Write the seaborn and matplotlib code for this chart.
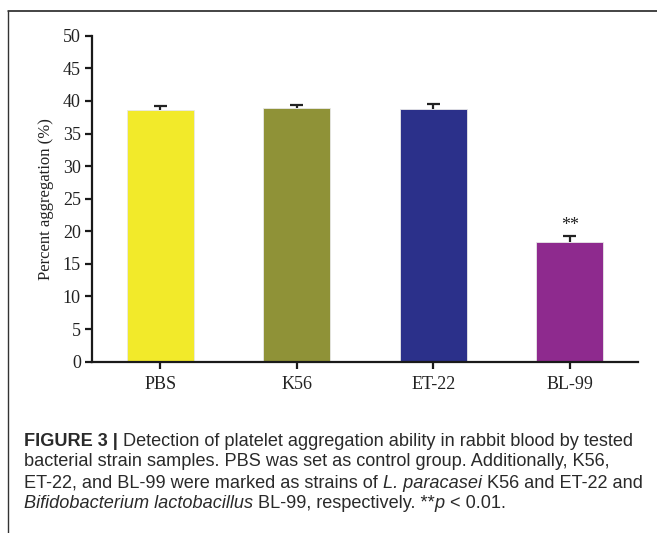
import numpy as np
import pandas as pd
import matplotlib
matplotlib.use("Agg")
import matplotlib.pyplot as plt
from matplotlib.lines import Line2D
import seaborn as sns

# ---- data ----
groups = ["PBS", "K56", "ET-22", "BL-99"]
means = [38.65, 38.85, 38.8, 18.3]
errors = [0.5, 0.45, 0.75, 0.95]
bar_colors = ["#F2EA2A", "#8F9237", "#2B308A", "#8E2A8E"]
y_ticks = [0, 5, 10, 15, 20, 25, 30, 35, 40, 45, 50]
sig_group = "BL-99"
sig_label = "**"
y_label = "Percent aggregation (%)"
caption_lines = [
    [("FIGURE 3 | ", "bold", "normal"),
     ("Detection of platelet aggregation ability in rabbit blood by tested", "normal", "normal")],
    [("bacterial strain samples. PBS was set as control group. Additionally, K56,", "normal", "normal")],
    [("ET-22, and BL-99 were marked as strains of ", "normal", "normal"),
     ("L. paracasei", "normal", "italic"),
     (" K56 and ET-22 and", "normal", "normal")],
    [("Bifidobacterium lactobacillus", "normal", "italic"),
     (" BL-99, respectively. **", "normal", "normal"),
     ("p", "normal", "italic"),
     (" < 0.01.", "normal", "normal")],
]

df = pd.DataFrame({"group": groups, "value": means, "err": errors})

sns.set_style("ticks")
serif = ["Liberation Serif", "DejaVu Serif"]
plt.rcParams["font.family"] = serif

fig = plt.figure(figsize=(6.57, 5.33), dpi=100)
ax = fig.add_axes([0.140, 0.3214, 0.831, 0.6116])

sns.barplot(data=df, x="group", y="value", hue="group",
            palette=dict(zip(groups, bar_colors)), order=groups,
            width=0.49, legend=False, ax=ax, errorbar=None,
            edgecolor="#e8e8e8", linewidth=0.6, saturation=1)

# upper-only error bars (GraphPad style)
xpos = np.arange(len(groups))
tops = df["value"] + df["err"]
ax.vlines(xpos, df["value"], tops, colors="#222222", linewidth=1.6, zorder=5)
ax.hlines(tops, xpos - 0.048, xpos + 0.048, colors="#222222", linewidth=1.6, zorder=5)

si = groups.index(sig_group)
ax.text(si, tops[si] + 1.6, sig_label, ha="center",
        va="center", fontsize=13, color="#222222", family=serif)

ax.set_xlim(-0.5, 3.5)
ax.set_ylim(0, 50)
ax.set_yticks(y_ticks)
ax.set_yticklabels([str(t) for t in y_ticks])
ax.set_xlabel("")
ax.set_ylabel(y_label, fontsize=12, color="#222222", labelpad=6)
for s in ["top", "right"]:
    ax.spines[s].set_visible(False)
for s in ["left", "bottom"]:
    ax.spines[s].set_linewidth(1.6)
    ax.spines[s].set_color("#1a1a1a")
ax.tick_params(axis="both", direction="out", width=1.6, length=5,
               color="#1a1a1a", labelsize=13, labelcolor="#222222")
ax.tick_params(axis="y", pad=3)
ax.tick_params(axis="x", pad=5)

# frame lines
fig.add_artist(Line2D([8/657, 1.0], [1 - 11/533, 1 - 11/533], transform=fig.transFigure,
                      color="#111111", linewidth=1.1))
fig.add_artist(Line2D([8/657, 8/657], [0, 1 - 11/533], transform=fig.transFigure,
                      color="#333333", linewidth=1.0))

# caption with mixed styles
sans = ["Liberation Sans", "DejaVu Sans"]
fig.canvas.draw()
renderer = fig.canvas.get_renderer()
x0 = 24
line_y = [441, 462, 483, 504]
for segs, yy in zip(caption_lines, line_y):
    x = x0
    for txt, weight, style in segs:
        t = fig.text(x / 657, 1 - yy / 533, txt, fontsize=13.1, fontweight=weight,
                     fontstyle=style, family=sans, color="#2a2a2a",
                     ha="left", va="center")
        bb = t.get_window_extent(renderer=renderer)
        x += bb.width

fig.savefig("out.png", dpi=100)
